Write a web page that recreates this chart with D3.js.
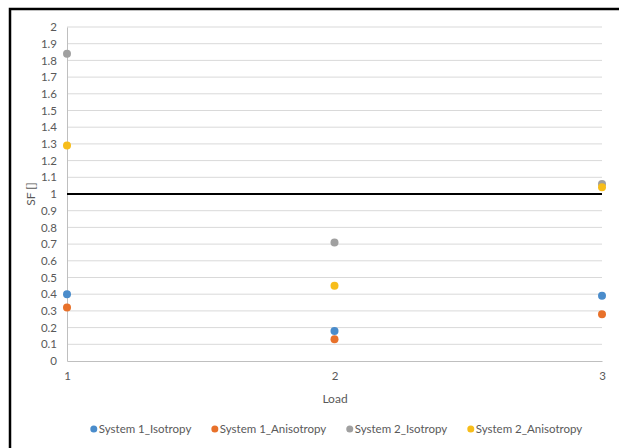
<!DOCTYPE html>
<html>
<head>
<meta charset="utf-8">
<script src="https://cdn.jsdelivr.net/npm/d3@7"></script>
<style>
  body { margin: 0; background: #fff; }
  text { font-family: Lato, "Noto Sans", sans-serif; fill: #595959; }
</style>
</head>
<body>
<svg id="chart" width="619" height="448"></svg>
<script>
// load cases on the x axis
var loads = [1, 2, 3];
var yTicks = d3.range(0, 21).map(function(i) { return i / 10; });

// series values, one per load
var sys1Iso = [0.40, 0.18, 0.39];
var sys1Aniso = [0.32, 0.13, 0.28];
var sys2Iso = [1.84, 0.71, 1.06];
var sys2Aniso = [1.29, 0.45, 1.04];

var seriesNames = ['System 1_Isotropy', 'System 1_Anisotropy', 'System 2_Isotropy', 'System 2_Anisotropy'];
var seriesValues = [sys1Iso, sys1Aniso, sys2Iso, sys2Aniso];
var colors = ['#4a8ccb', '#e8712a', '#a0a0a0', '#f7bd1a'];
var limit = 1;

var svg = d3.select('#chart');
var plotLeft = 67, plotRight = 602, plotTop = 27, plotBottom = 361;

var x = d3.scaleLinear().domain([1, 3]).range([plotLeft, plotRight]);
var y = d3.scaleLinear().domain([0, 2]).range([plotBottom, plotTop]);

// outer frame (cut off on right and bottom)
svg.append('path')
    .attr('d', 'M10,452 L10,9 L625,9')
    .attr('fill', 'none')
    .attr('stroke', '#000')
    .attr('stroke-width', 2.5);

// gridlines
svg.append('g').selectAll('line')
    .data(yTicks.slice(1))
    .enter().append('line')
    .attr('x1', plotLeft).attr('x2', plotRight)
    .attr('y1', function(d) { return y(d); })
    .attr('y2', function(d) { return y(d); })
    .attr('stroke', '#d9d9d9')
    .attr('stroke-width', 1);

// y axis
var yAxis = svg.append('g')
    .attr('transform', 'translate(' + plotLeft + ',0)')
    .call(d3.axisLeft(y).tickValues(yTicks).tickSize(0).tickPadding(10)
        .tickFormat(function(d) { return d3.format('~g')(d); }));
yAxis.select('.domain').attr('stroke', '#bfbfbf');
yAxis.selectAll('text').attr('font-size', 11.5).attr('fill', '#595959');

// x axis
var xAxis = svg.append('g')
    .attr('transform', 'translate(0,' + plotBottom + ')')
    .call(d3.axisBottom(x).tickValues(loads).tickSize(0).tickPadding(11).tickFormat(d3.format('d')));
xAxis.select('.domain').attr('stroke', '#bfbfbf');
xAxis.selectAll('text').attr('font-size', 11.5).attr('fill', '#595959');

// SF = 1 line
svg.append('line')
    .attr('x1', x(1)).attr('x2', x(3))
    .attr('y1', y(limit)).attr('y2', y(limit))
    .attr('stroke', '#000')
    .attr('stroke-width', 2.2);

// points
seriesValues.forEach(function(vals, s) {
    svg.append('g').selectAll('circle')
        .data(vals)
        .enter().append('circle')
        .attr('cx', function(d, i) { return x(loads[i]); })
        .attr('cy', function(d) { return y(d); })
        .attr('r', 4)
        .attr('fill', colors[s]);
});

// axis titles
svg.append('text')
    .attr('x', (plotLeft + plotRight) / 2 + 0.5).attr('y', 403)
    .attr('text-anchor', 'middle')
    .attr('font-size', 12)
    .text('Load');

svg.append('text')
    .attr('transform', 'translate(35,' + y(1) + ') rotate(-90)')
    .attr('text-anchor', 'middle')
    .attr('font-size', 12)
    .text('SF []');

// legend, laid out from measured text widths and centred
var legend = svg.append('g');
var items = legend.selectAll('g')
    .data(seriesNames)
    .enter().append('g');
items.append('circle')
    .attr('r', 3.5)
    .attr('fill', function(d, i) { return colors[i]; });
items.append('text')
    .attr('x', 5).attr('y', 4)
    .attr('font-size', 11.5)
    .text(function(d) { return d; });

var gap = 20;
var pos = 0;
var offsets = [];
items.each(function() {
    var w = d3.select(this).select('text').node().getComputedTextLength();
    offsets.push(pos);
    pos += 3.5 + 5 + w + gap;
});
var total = pos - gap + 3.5;
var startX = 338 - total / 2 + 3.5;
items.attr('transform', function(d, i) { return 'translate(' + (startX + offsets[i]) + ',429)'; });
</script>
</body>
</html>
